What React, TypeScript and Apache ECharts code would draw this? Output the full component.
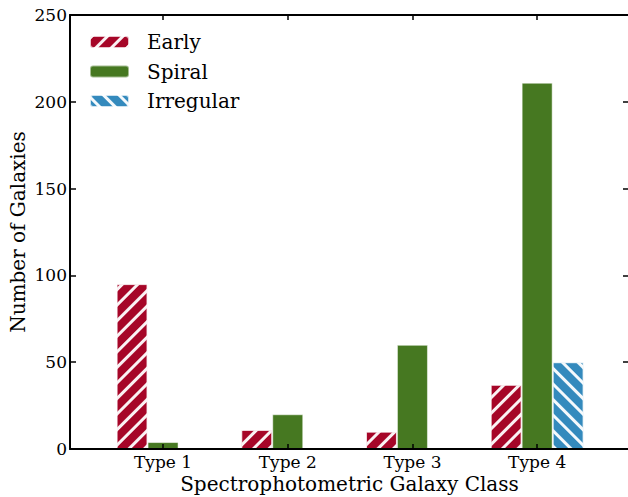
import React, { useEffect, useRef } from "react";
import * as echarts from "echarts";

const categories = ["Type 1", "Type 2", "Type 3", "Type 4"];
const earlyValues = [95, 11, 10, 37];
const spiralValues = [4, 20, 60, 211];
const irregularValues = [0, 0, 0, 50];
const yTicks = { min: 0, max: 250, interval: 50 };

const FONT = "DejaVu Serif";

export default function App() {
  const ref = useRef<HTMLDivElement>(null);
  useEffect(() => {
    if (!ref.current) return;
    const chart = echarts.init(ref.current, null, { renderer: "svg" });
    const spine = { show: true, onZero: false, lineStyle: { color: "#000", width: 2 } };
    const hatch = (rot: number) => ({
      symbol: "rect",
      symbolSize: 1,
      dashArrayX: [1, 0],
      dashArrayY: [2.5, 8],
      rotation: rot,
      color: "rgba(255,255,255,0.95)",
    });
    const barCommon = {
      type: "bar",
      xAxisIndex: 2,
      yAxisIndex: 2,
      barWidth: 31,
      barGap: "0%",
      z: 2,
    };
    chart.setOption({
      animation: false,
      grid: [
        { left: 70, right: -1, top: 15, bottom: 48, outerBoundsMode: "none", containLabel: false },
        { left: 100.7, right: 28.5, top: 15, bottom: 48, outerBoundsMode: "none", containLabel: false },
      ],
      legend: {
        left: 89,
        top: 32,
        orient: "vertical",
        padding: 0,
        itemWidth: 39,
        itemHeight: 12,
        itemGap: 9.5,
        data: ["Early", "Spiral", "Irregular"],
        textStyle: {
          fontFamily: FONT,
          fontSize: 20,
          color: "#000",
          lineHeight: 20,
          padding: [0, 0, 0, 13],
        },
      },
      xAxis: [
        {
          type: "value",
          gridIndex: 0,
          min: 0,
          max: 1,
          position: "bottom",
          axisLine: spine,
          axisTick: { show: false },
          axisLabel: { show: false },
          splitLine: { show: false },
          name: "Spectrophotometric Galaxy Class",
          nameLocation: "middle",
          nameGap: 25,
          nameMoveOverlap: false,
          nameTextStyle: { fontFamily: FONT, fontSize: 20, color: "#000" },
          z: 5,
        },
        {
          type: "value",
          gridIndex: 0,
          min: 0,
          max: 1,
          position: "top",
          axisLine: spine,
          axisTick: { show: false },
          axisLabel: { show: false },
          splitLine: { show: false },
          z: 5,
        },
        {
          type: "category",
          gridIndex: 1,
          data: categories,
          position: "bottom",
          axisLine: { show: false, onZero: false },
          axisTick: {
            show: true,
            inside: true,
            alignWithLabel: true,
            length: 5,
            lineStyle: { color: "#000", width: 1.5 },
          },
          axisLabel: {
            fontFamily: FONT,
            fontSize: 17,
            color: "#000",
            margin: 4,
          },
          z: 5,
        },
        {
          type: "category",
          gridIndex: 1,
          data: categories,
          position: "top",
          axisLine: { show: false, onZero: false },
          axisTick: {
            show: true,
            inside: true,
            alignWithLabel: true,
            length: 5,
            lineStyle: { color: "#000", width: 1.5 },
          },
          axisLabel: { show: false },
          z: 5,
        },
      ],
      yAxis: [
        {
          type: "value",
          gridIndex: 0,
          ...yTicks,
          position: "left",
          axisLine: spine,
          axisTick: {
            show: true,
            inside: true,
            length: 6,
            lineStyle: { color: "#000", width: 1.5 },
          },
          axisLabel: {
            fontFamily: FONT,
            fontSize: 17,
            color: "#000",
            margin: 3,
          },
          splitLine: { show: false },
          name: "Number of Galaxies",
          nameLocation: "middle",
          nameGap: 42,
          nameMoveOverlap: false,
          nameTextStyle: { fontFamily: FONT, fontSize: 20, color: "#000" },
          z: 5,
        },
        {
          type: "value",
          gridIndex: 0,
          ...yTicks,
          position: "right",
          axisLine: spine,
          axisTick: {
            show: true,
            inside: true,
            length: 6,
            lineStyle: { color: "#000", width: 1.5 },
          },
          axisLabel: { show: false },
          splitLine: { show: false },
          z: 5,
        },
        {
          type: "value",
          gridIndex: 1,
          ...yTicks,
          show: false,
          splitLine: { show: false },
        },
      ],
      series: [
        {
          ...barCommon,
          name: "Early",
          data: earlyValues,
          itemStyle: {
            color: "#A60628",
            borderColor: "rgba(255,255,255,0.5)",
            borderWidth: 1,
            decal: hatch(-Math.PI / 4),
          },
        },
        {
          ...barCommon,
          name: "Spiral",
          data: spiralValues,
          itemStyle: {
            color: "#467821",
            borderColor: "rgba(255,255,255,0.5)",
            borderWidth: 1,
          },
        },
        {
          ...barCommon,
          name: "Irregular",
          data: irregularValues,
          itemStyle: {
            color: "#348ABD",
            borderColor: "rgba(255,255,255,0.5)",
            borderWidth: 1,
            decal: hatch(Math.PI / 4),
          },
        },
      ],
    });
    return () => chart.dispose();
  }, []);
  return <div ref={ref} style={{ width: 628, height: 497, position: "absolute", left: 0, top: 0 }} />;
}
